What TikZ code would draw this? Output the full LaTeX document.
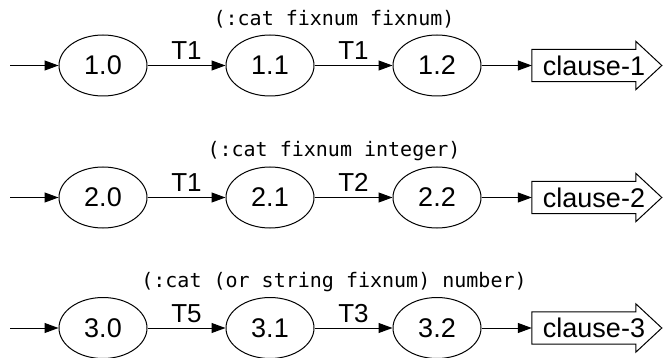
\documentclass[tikz,border=0pt]{standalone}
\usepackage{fontspec}
\setmainfont{Liberation Sans}
\newfontfamily\titlefont{DejaVu Sans Mono}
\usetikzlibrary{arrows.meta,shapes.geometric,calc}
\begin{document}
\begin{tikzpicture}[x=1pt,y=-1pt,
  state/.style={ellipse,draw,line width=1pt,minimum width=88pt,minimum height=61pt,inner sep=0pt,font=\fontsize{27}{32}\selectfont},
  lab/.style={font=\fontsize{26}{31}\selectfont,inner sep=0pt},
  titletext/.style={font=\titlefont\fontsize{20}{24}\selectfont,inner sep=0pt},
  clausebox/.style={minimum width=124pt,minimum height=32pt,inner sep=0pt,font=\fontsize{27}{32}\selectfont},
  edge/.style={line width=1pt,-{Triangle[length=14pt,width=10pt]}},
  outline/.style={line width=1pt}
]
\useasboundingbox (0,0) rectangle (669,358);
\foreach \r/\y/\ty/\ta/\tb/\ttl in {1/65.5/19/T1/T1/{(:cat fixnum fixnum)},2/197.5/151/T1/T2/{(:cat fixnum integer)},3/328/282/T5/T3/{(:cat (or string fixnum) number)}}{
  \node[titletext] (t\r) at (334,\ty) {\ttl};
  \coordinate (in\r) at (10,\y);
  \node[state] (a\r) at (103,\y) {\r.0};
  \node[state] (b\r) at (270,\y) {\r.1};
  \node[state] (c\r) at (437,\y) {\r.2};
  \node[clausebox] (k\r) at (594,\y) {clause-\r};
  \draw[outline] (k\r.north west) -- ++(104,0) -- ++(0,-8) -- ($(k\r.west)+(130,0)$)
    -- ($(k\r.south west)+(104,8)$) -- ++(0,-8) -- (k\r.south west) -- cycle;
  \draw[edge] (in\r) -- (a\r);
  \draw[edge] (a\r) -- node[lab,above=5pt] {\ta} (b\r);
  \draw[edge] (b\r) -- node[lab,above=5pt] {\tb} (c\r);
  \draw[edge] (c\r) -- (k\r);
}
\end{tikzpicture}
\end{document}
